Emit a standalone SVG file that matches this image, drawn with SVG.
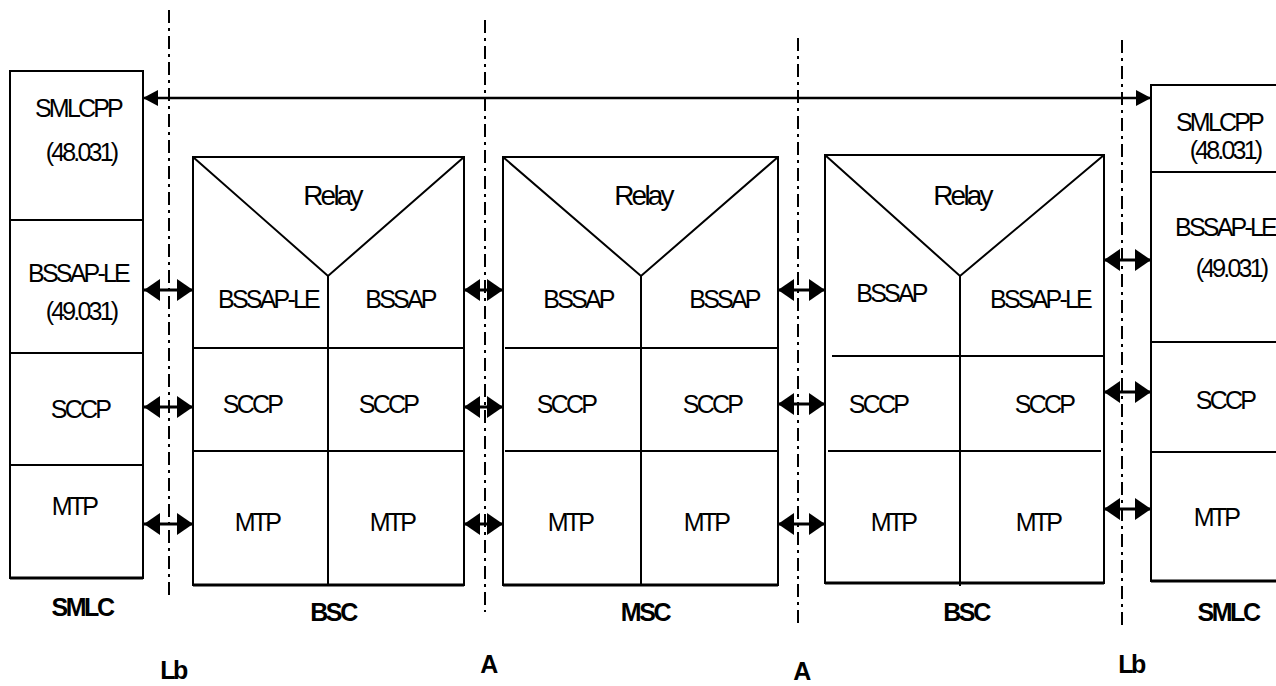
<svg xmlns="http://www.w3.org/2000/svg" width="1276" height="686" viewBox="0 0 1276 686">
<style>
.box{fill:#fff;stroke:#000;stroke-width:2}
.ln{stroke:#000;stroke-width:2;fill:none}
.t{font-family:"Liberation Sans",Arial,sans-serif;font-size:25px;letter-spacing:-2.8px;text-anchor:middle;fill:#000}
.r{font-size:28px;letter-spacing:-2.8px}
.b{font-weight:bold;letter-spacing:-2.4px}
.dd{stroke:#000;stroke-width:2;fill:none;stroke-dasharray:13 5 3 5}
.ar{stroke:#000;stroke-width:3;fill:none;marker-start:url(#h);marker-end:url(#h)}
.top{stroke:#000;stroke-width:2.5;fill:none;marker-start:url(#h2);marker-end:url(#h2)}
</style>
<defs>
<marker id="h" viewBox="0 0 16 22" refX="16" refY="11" markerWidth="16" markerHeight="22" markerUnits="userSpaceOnUse" orient="auto-start-reverse"><path d="M0,0 L16,11 L0,22 Z" fill="#000"/></marker>
<marker id="h2" viewBox="0 0 15 16" refX="15" refY="8" markerWidth="15" markerHeight="16" markerUnits="userSpaceOnUse" orient="auto-start-reverse"><path d="M0,0 L15,8 L0,16 Z" fill="#000"/></marker>
</defs>
<rect width="1276" height="686" fill="#fff"/>

<g id="interfaces">
<line class="dd" x1="169" y1="10" x2="169" y2="597"/>
<line class="dd" x1="485" y1="20" x2="485" y2="612"/>
<line class="dd" x1="798" y1="38" x2="798" y2="627"/>
<line class="dd" x1="1122" y1="40" x2="1122" y2="627"/>
<text class="t b" x="173" y="679">Lb</text>
<text class="t b" x="488" y="673">A</text>
<text class="t b" x="801" y="680">A</text>
<text class="t b" x="1131" y="673">Lb</text>
</g>

<g id="smlc-left">
<rect class="box" x="10" y="71" width="133" height="507"/>
<line class="ln" x1="10" y1="220" x2="143" y2="220"/>
<line class="ln" x1="10" y1="353" x2="143" y2="353"/>
<line class="ln" x1="10" y1="465" x2="143" y2="465"/>
<line x1="10" y1="578" x2="143" y2="578" stroke="#000" stroke-width="3"/>
<text class="t" x="78" y="117">SMLCPP</text>
<text class="t" x="81" y="161">(48.031)</text>
<text class="t" x="78" y="282">BSSAP-LE</text>
<text class="t" x="81" y="320">(49.031)</text>
<text class="t" x="80" y="418">SCCP</text>
<text class="t" x="74" y="515">MTP</text>
<text class="t b" x="82" y="616">SMLC</text>
</g>

<g id="bsc-left">
<rect class="box" x="193" y="157" width="271" height="428"/>
<polyline class="ln" points="193,157 328,276 464,157"/>
<line class="ln" x1="328" y1="276" x2="328" y2="585"/>
<line class="ln" x1="193" y1="348" x2="464" y2="348"/>
<line class="ln" x1="193" y1="451" x2="464" y2="451"/>
<line x1="193" y1="585" x2="464" y2="585" stroke="#000" stroke-width="3"/>
<text class="t r" x="332" y="205">Relay</text>
<text class="t" x="268" y="308">BSSAP-LE</text>
<text class="t" x="400" y="308">BSSAP</text>
<text class="t" x="252" y="413">SCCP</text>
<text class="t" x="388" y="413">SCCP</text>
<text class="t" x="257" y="531">MTP</text>
<text class="t" x="392" y="531">MTP</text>
<text class="t b" x="333" y="621">BSC</text>
</g>

<g id="msc">
<rect class="box" x="503" y="157" width="275" height="428"/>
<polyline class="ln" points="503,157 641,276 778,157"/>
<line class="ln" x1="641" y1="276" x2="641" y2="585"/>
<line class="ln" x1="505" y1="348" x2="778" y2="348"/>
<line class="ln" x1="505" y1="451" x2="778" y2="451"/>
<line x1="503" y1="585" x2="778" y2="585" stroke="#000" stroke-width="3"/>
<text class="t r" x="643" y="205">Relay</text>
<text class="t" x="578" y="308">BSSAP</text>
<text class="t" x="724" y="308">BSSAP</text>
<text class="t" x="566" y="413">SCCP</text>
<text class="t" x="712" y="413">SCCP</text>
<text class="t" x="570" y="531">MTP</text>
<text class="t" x="706" y="531">MTP</text>
<text class="t b" x="645" y="621">MSC</text>
</g>

<g id="bsc-right">
<rect class="box" x="825" y="155" width="279" height="428"/>
<polyline class="ln" points="825,155 960,276 1104,155"/>
<line class="ln" x1="960" y1="276" x2="960" y2="586"/>
<line class="ln" x1="832" y1="356" x2="1104" y2="356"/>
<line class="ln" x1="828" y1="451" x2="1101" y2="451"/>
<line x1="825" y1="583" x2="1104" y2="583" stroke="#000" stroke-width="3"/>
<text class="t r" x="962" y="205">Relay</text>
<text class="t" x="891" y="302">BSSAP</text>
<text class="t" x="1040" y="308">BSSAP-LE</text>
<text class="t" x="878" y="413">SCCP</text>
<text class="t" x="1044" y="413">SCCP</text>
<text class="t" x="893" y="531">MTP</text>
<text class="t" x="1038" y="531">MTP</text>
<text class="t b" x="966" y="621">BSC</text>
</g>

<g id="smlc-right">
<rect class="box" x="1151" y="85" width="140" height="496"/>
<line class="ln" x1="1151" y1="172" x2="1276" y2="172"/>
<line class="ln" x1="1151" y1="342" x2="1276" y2="342"/>
<line class="ln" x1="1151" y1="452" x2="1276" y2="452"/>
<line x1="1151" y1="581" x2="1276" y2="581" stroke="#000" stroke-width="3"/>
<text class="t" x="1219" y="131">SMLCPP</text>
<text class="t" x="1225" y="159">(48.031)</text>
<text class="t" x="1225" y="236">BSSAP-LE</text>
<text class="t" x="1231" y="277">(49.031)</text>
<text class="t" x="1225" y="409">SCCP</text>
<text class="t" x="1216" y="526">MTP</text>
<text class="t b" x="1228" y="621">SMLC</text>
</g>

<g id="connectors">
<line class="top" x1="143" y1="98" x2="1151" y2="98"/>
<line class="ar" x1="144" y1="290" x2="193" y2="290"/>
<line class="ar" x1="144" y1="407" x2="193" y2="407"/>
<line class="ar" x1="144" y1="524" x2="193" y2="524"/>
<line class="ar" x1="464" y1="290" x2="503" y2="290"/>
<line class="ar" x1="464" y1="407" x2="503" y2="407"/>
<line class="ar" x1="464" y1="524" x2="503" y2="524"/>
<line class="ar" x1="778" y1="290" x2="825" y2="290"/>
<line class="ar" x1="778" y1="404" x2="825" y2="404"/>
<line class="ar" x1="778" y1="524" x2="825" y2="524"/>
<line class="ar" x1="1104" y1="260" x2="1151" y2="260"/>
<line class="ar" x1="1104" y1="392" x2="1151" y2="392"/>
<line class="ar" x1="1104" y1="509" x2="1151" y2="509"/>
</g>
</svg>
